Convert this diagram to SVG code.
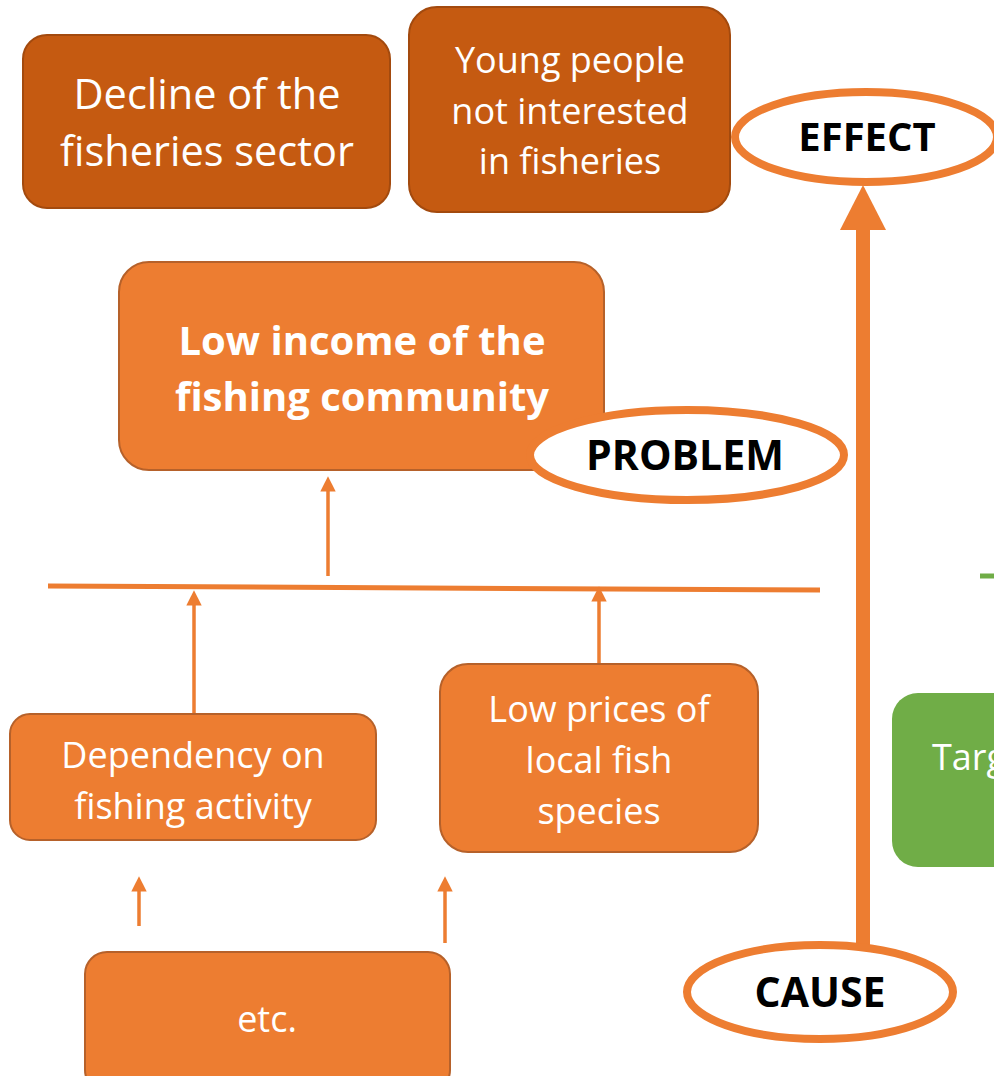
<svg xmlns="http://www.w3.org/2000/svg" width="994" height="1076" viewBox="0 0 994 1076">
<defs>
<style>
.dark{fill:#C55A11;stroke:#A34A0E;stroke-width:2}
.org{fill:#ED7D31;stroke:#B6612A;stroke-width:2}
.grn{fill:#70AD47}
.t{font-family:"Open Sans","Liberation Sans",sans-serif;fill:#fff;text-anchor:middle}
.tb{font-family:"Open Sans","Liberation Sans",sans-serif;fill:#fff;text-anchor:middle;font-weight:bold}
.lbl{font-family:"Open Sans","Liberation Sans",sans-serif;fill:#000;text-anchor:middle;font-weight:bold}
.ell{fill:#fff;stroke:#ED7D31;stroke-width:8}
.con{stroke:#ED7D31;fill:none}
</style>
<marker id="ah" markerWidth="4.4" markerHeight="4.4" refX="1" refY="5" orient="auto" markerUnits="strokeWidth" viewBox="0 0 10 10">
<path d="M0,0 L10,5 L0,10 Z" fill="#ED7D31"/>
</marker>
</defs>
<rect width="994" height="1076" fill="#fff"/>
<g id="connectors">
<line class="con" x1="48" y1="586" x2="820" y2="590" stroke-width="5"/>
<line class="con" x1="328" y1="576" x2="328" y2="490" stroke-width="3.5" marker-end="url(#ah)"/>
<line class="con" x1="194" y1="714" x2="194" y2="604" stroke-width="3.5" marker-end="url(#ah)"/>
<line class="con" x1="599" y1="664" x2="599" y2="600" stroke-width="3.5" marker-end="url(#ah)"/>
<line class="con" x1="139" y1="926" x2="139" y2="890" stroke-width="3.5" marker-end="url(#ah)"/>
<line class="con" x1="445" y1="943" x2="445" y2="890" stroke-width="3.5" marker-end="url(#ah)"/>
<line class="con" x1="863" y1="945" x2="863" y2="225" stroke-width="14"/>
<path d="M840,230 L863,185 L886,230 Z" fill="#ED7D31"/>
<line x1="980" y1="576" x2="994" y2="576" stroke="#70AD47" stroke-width="5"/>
</g>
<g id="decline">
<rect class="dark" x="23" y="35" width="367" height="173" rx="24"/>
<text class="t" font-size="41.5" x="207" y="109">Decline of the</text>
<text class="t" font-size="41.5" x="207" y="166">fisheries sector</text>
</g>
<g id="young">
<rect class="dark" x="409" y="7" width="321" height="205" rx="28"/>
<text class="t" font-size="36" x="570" y="73">Young people</text>
<text class="t" font-size="36" x="570" y="124">not interested</text>
<text class="t" font-size="36" x="570" y="174">in fisheries</text>
</g>
<g id="effect">
<ellipse class="ell" cx="866" cy="137" rx="131" ry="45"/>
<text class="lbl" font-size="40" x="867" y="151">EFFECT</text>
</g>
<g id="lowincome">
<rect class="org" x="119" y="262" width="485" height="208" rx="30"/>
<text class="tb" font-size="40" x="362" y="355">Low income of the</text>
<text class="tb" font-size="40" x="362" y="411">fishing community</text>
</g>
<g id="problem">
<ellipse class="ell" cx="687" cy="455" rx="157" ry="45"/>
<text class="lbl" font-size="41" x="685" y="470">PROBLEM</text>
</g>
<g id="dependency">
<rect class="org" x="10" y="714" width="366" height="126" rx="20"/>
<text class="t" font-size="36" x="193" y="768">Dependency on</text>
<text class="t" font-size="36" x="193" y="819">fishing activity</text>
</g>
<g id="lowprices">
<rect class="org" x="440" y="664" width="318" height="188" rx="28"/>
<text class="t" font-size="36" x="599" y="722">Low prices of</text>
<text class="t" font-size="36" x="599" y="773">local fish</text>
<text class="t" font-size="36" x="599" y="824">species</text>
</g>
<g id="target">
<rect class="grn" x="892" y="693" width="140" height="174" rx="26"/>
<text class="t" font-size="36" x="932" y="770" style="text-anchor:start">Targ</text>
</g>
<g id="etc">
<rect class="org" x="85" y="952" width="365" height="140" rx="22"/>
<text class="t" font-size="36" x="267" y="1032">etc.</text>
</g>
<g id="cause">
<ellipse class="ell" cx="820" cy="992" rx="133" ry="47"/>
<text class="lbl" font-size="41" x="820" y="1007">CAUSE</text>
</g>
</svg>
